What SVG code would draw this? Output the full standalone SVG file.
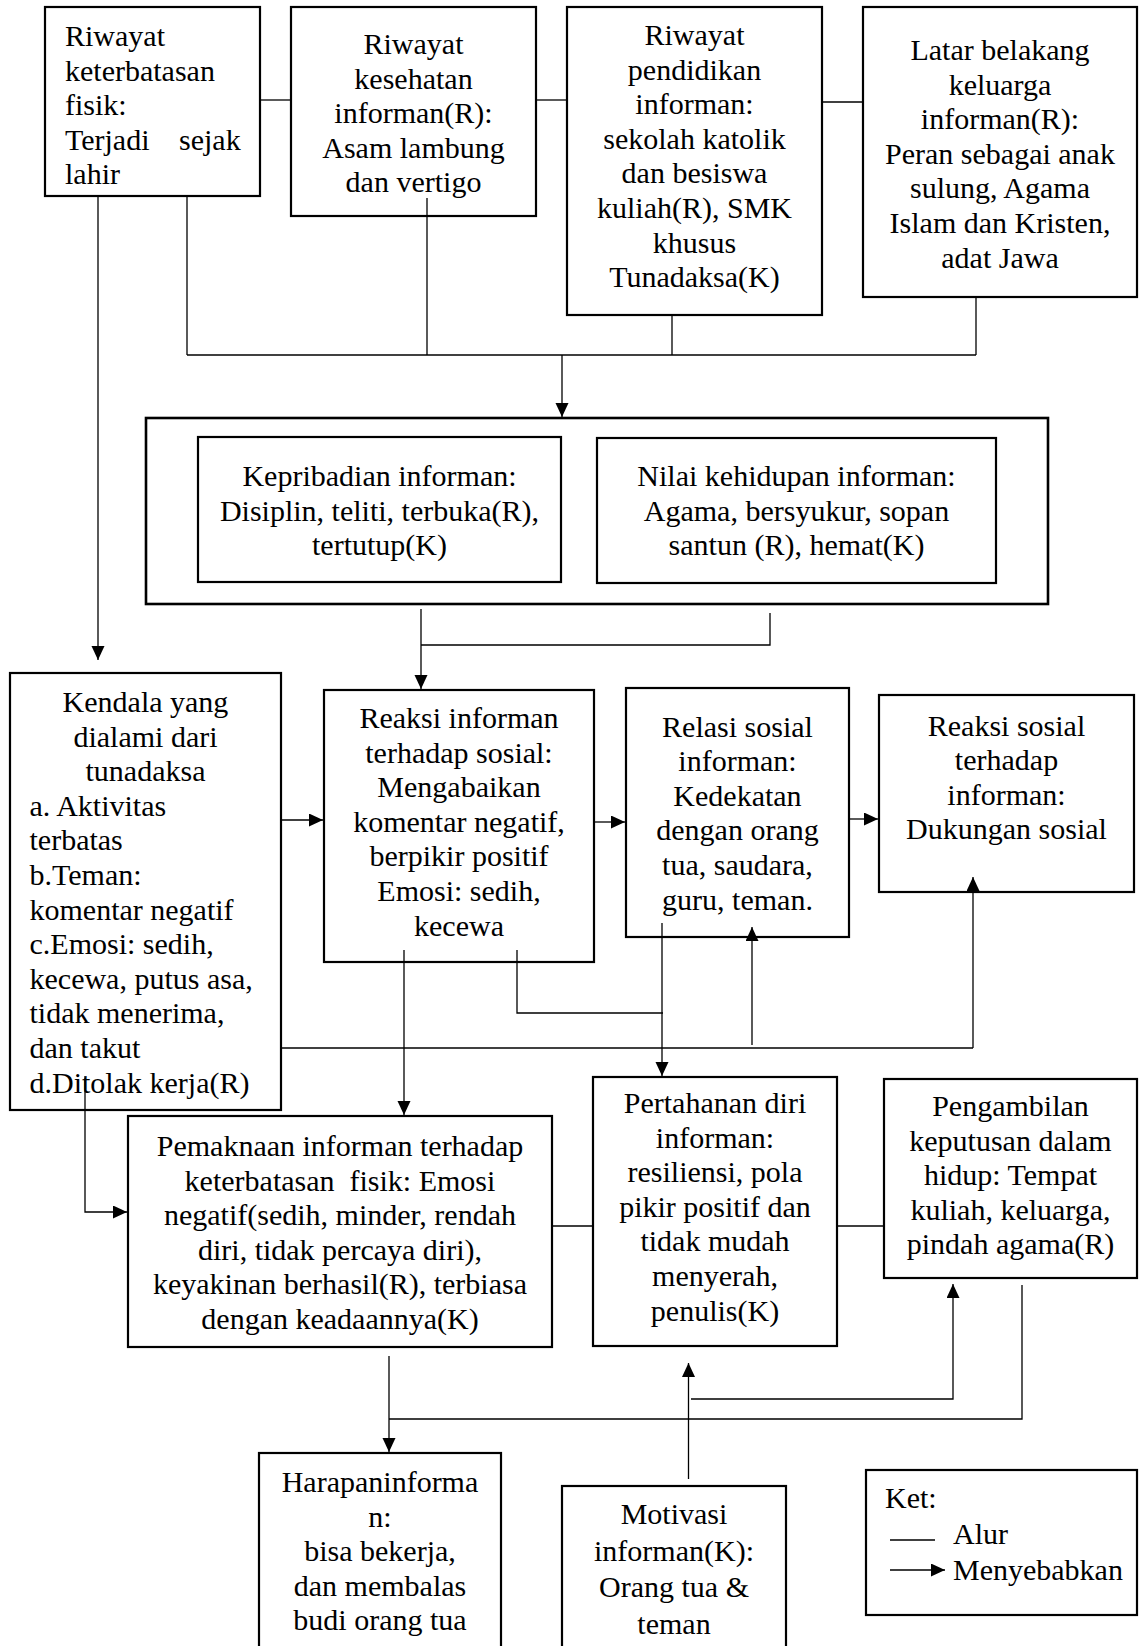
<svg xmlns="http://www.w3.org/2000/svg" width="1139" height="1646" viewBox="0 0 1139 1646">
<style>
.box{fill:#fff;stroke:#000;stroke-width:2.2}
.ln{fill:none;stroke:#000;stroke-width:1.3}
.ar{fill:none;stroke:#000;stroke-width:1.3;marker-end:url(#ah)}
text{font-family:"Liberation Serif","Times New Roman",serif;font-size:30px;fill:#000}
.c{text-anchor:middle}
</style>
<defs>
<marker id="ah" markerUnits="userSpaceOnUse" markerWidth="15" markerHeight="14" refX="14" refY="6.5" orient="auto">
<path d="M0,0 L14,6.5 L0,13 z" fill="#000"/>
</marker>
</defs>
<rect width="1139" height="1646" fill="#fff"/>
<g id="n1">
<rect class="box" x="45" y="7" width="215" height="189"/>
<text x="65" y="46">Riwayat</text>
<text x="65" y="80.6">keterbatasan</text>
<text x="65" y="115.2">fisik:</text>
<text y="149.8"><tspan x="65">Terjadi</tspan><tspan x="179">sejak</tspan></text>
<text x="65" y="184.4">lahir</text>
</g>
<g id="n2">
<rect class="box" x="291" y="7" width="245" height="209"/>
<text class="c" x="413.5" y="54">Riwayat</text>
<text class="c" x="413.5" y="88.6">kesehatan</text>
<text class="c" x="413.5" y="123.2">informan(R):</text>
<text class="c" x="413.5" y="157.8">Asam lambung</text>
<text class="c" x="413.5" y="192.4">dan vertigo</text>
</g>
<g id="n3">
<rect class="box" x="567" y="7" width="255" height="308"/>
<text class="c" x="694.5" y="45">Riwayat</text>
<text class="c" x="694.5" y="79.6">pendidikan</text>
<text class="c" x="694.5" y="114.2">informan:</text>
<text class="c" x="694.5" y="148.8">sekolah katolik</text>
<text class="c" x="694.5" y="183.4">dan besiswa</text>
<text class="c" x="694.5" y="218">kuliah(R), SMK</text>
<text class="c" x="694.5" y="252.6">khusus</text>
<text class="c" x="694.5" y="287.2">Tunadaksa(K)</text>
</g>
<g id="n4">
<rect class="box" x="863" y="7" width="274" height="290"/>
<text class="c" x="1000" y="60">Latar belakang</text>
<text class="c" x="1000" y="94.6">keluarga</text>
<text class="c" x="1000" y="129.2">informan(R):</text>
<text class="c" x="1000" y="163.8">Peran sebagai anak</text>
<text class="c" x="1000" y="198.4">sulung, Agama</text>
<text class="c" x="1000" y="233">Islam dan Kristen,</text>
<text class="c" x="1000" y="267.6">adat Jawa</text>
</g>
<g id="n-group">
<rect class="box" x="146" y="418" width="902" height="186" style="stroke-width:2.6"/>
</g>
<g id="n-kepribadian">
<rect class="box" x="198" y="437" width="363" height="145"/>
<text class="c" x="379.5" y="486">Kepribadian informan:</text>
<text class="c" x="379.5" y="520.6">Disiplin, teliti, terbuka(R),</text>
<text class="c" x="379.5" y="555.2">tertutup(K)</text>
</g>
<g id="n-nilai">
<rect class="box" x="597" y="438" width="399" height="145"/>
<text class="c" x="796.5" y="486">Nilai kehidupan informan:</text>
<text class="c" x="796.5" y="520.6">Agama, bersyukur, sopan</text>
<text class="c" x="796.5" y="555.2">santun (R), hemat(K)</text>
</g>
<g id="n-kendala">
<rect class="box" x="10" y="673" width="271" height="437"/>
<text class="c" x="145.5" y="712">Kendala yang</text>
<text class="c" x="145.5" y="746.6">dialami dari</text>
<text class="c" x="145.5" y="781.2">tunadaksa</text>
<text x="29.5" y="815.8">a. Aktivitas</text>
<text x="29.5" y="850.4">terbatas</text>
<text x="29.5" y="885">b.Teman:</text>
<text x="29.5" y="919.6">komentar negatif</text>
<text x="29.5" y="954.2">c.Emosi: sedih,</text>
<text x="29.5" y="988.8">kecewa, putus asa,</text>
<text x="29.5" y="1023.4">tidak menerima,</text>
<text x="29.5" y="1058">dan takut</text>
<text x="29.5" y="1092.6">d.Ditolak kerja(R)</text>
</g>
<g id="n-reaksi-informan">
<rect class="box" x="324" y="690" width="270" height="272"/>
<text class="c" x="459" y="728">Reaksi informan</text>
<text class="c" x="459" y="762.6">terhadap sosial:</text>
<text class="c" x="459" y="797.2">Mengabaikan</text>
<text class="c" x="459" y="831.8">komentar negatif,</text>
<text class="c" x="459" y="866.4">berpikir positif</text>
<text class="c" x="459" y="901">Emosi: sedih,</text>
<text class="c" x="459" y="935.6">kecewa</text>
</g>
<g id="n-relasi">
<rect class="box" x="626" y="688" width="223" height="249"/>
<text class="c" x="737.5" y="736.5">Relasi sosial</text>
<text class="c" x="737.5" y="771.1">informan:</text>
<text class="c" x="737.5" y="805.7">Kedekatan</text>
<text class="c" x="737.5" y="840.3">dengan orang</text>
<text class="c" x="737.5" y="874.9">tua, saudara,</text>
<text class="c" x="737.5" y="909.5">guru, teman.</text>
</g>
<g id="n-reaksi-sosial">
<rect class="box" x="879" y="695" width="255" height="197"/>
<text class="c" x="1006.5" y="735.5">Reaksi sosial</text>
<text class="c" x="1006.5" y="770.1">terhadap</text>
<text class="c" x="1006.5" y="804.7">informan:</text>
<text class="c" x="1006.5" y="839.3">Dukungan sosial</text>
</g>
<g id="n-pemaknaan">
<rect class="box" x="128" y="1116" width="424" height="231"/>
<text class="c" x="340" y="1156">Pemaknaan informan terhadap</text>
<text class="c" x="340" y="1190.6" xml:space="preserve">keterbatasan  fisik: Emosi</text>
<text class="c" x="340" y="1225.2">negatif(sedih, minder, rendah</text>
<text class="c" x="340" y="1259.8">diri, tidak percaya diri),</text>
<text class="c" x="340" y="1294.4">keyakinan berhasil(R), terbiasa</text>
<text class="c" x="340" y="1329">dengan keadaannya(K)</text>
</g>
<g id="n-pertahanan">
<rect class="box" x="593" y="1077" width="244" height="269"/>
<text class="c" x="715" y="1113">Pertahanan diri</text>
<text class="c" x="715" y="1147.6">informan:</text>
<text class="c" x="715" y="1182.2">resiliensi, pola</text>
<text class="c" x="715" y="1216.8">pikir positif dan</text>
<text class="c" x="715" y="1251.4">tidak mudah</text>
<text class="c" x="715" y="1286">menyerah,</text>
<text class="c" x="715" y="1320.6">penulis(K)</text>
</g>
<g id="n-pengambilan">
<rect class="box" x="884" y="1079" width="253" height="199"/>
<text class="c" x="1010.5" y="1116">Pengambilan</text>
<text class="c" x="1010.5" y="1150.6">keputusan dalam</text>
<text class="c" x="1010.5" y="1185.2">hidup: Tempat</text>
<text class="c" x="1010.5" y="1219.8">kuliah, keluarga,</text>
<text class="c" x="1010.5" y="1254.4">pindah agama(R)</text>
</g>
<g id="n-harapan">
<rect class="box" x="259" y="1453" width="242" height="210"/>
<text class="c" x="380" y="1492">Harapaninforma</text>
<text class="c" x="380" y="1526.6">n:</text>
<text class="c" x="380" y="1561.2">bisa bekerja,</text>
<text class="c" x="380" y="1595.8">dan membalas</text>
<text class="c" x="380" y="1630.4">budi orang tua</text>
</g>
<g id="n-motivasi">
<rect class="box" x="562" y="1486" width="224" height="180"/>
<text class="c" x="674" y="1524">Motivasi</text>
<text class="c" x="674" y="1560.7">informan(K):</text>
<text class="c" x="674" y="1597.4">Orang tua &amp;</text>
<text class="c" x="674" y="1634">teman</text>
</g>
<g id="legend">
<rect class="box" x="866" y="1470" width="271" height="145"/>
<text x="885" y="1508">Ket:</text>
<path class="ln" d="M890,1540 H935"/>
<text x="953" y="1544">Alur</text>
<path class="ar" d="M890,1570 H945"/>
<text x="953" y="1580">Menyebabkan</text>
</g>
<g id="connectors">
<path class="ln" d="M260,100 H291"/>
<path class="ln" d="M536,100 H567"/>
<path class="ln" d="M822,102 H863"/>
<path class="ar" d="M98,196 V660"/>
<path class="ln" d="M187,196 V355"/>
<path class="ln" d="M427,198 V355"/>
<path class="ln" d="M672,315 V355"/>
<path class="ln" d="M976,297 V355"/>
<path class="ln" d="M187,355 H976"/>
<path class="ar" d="M562,355 V417"/>
<path class="ar" d="M421,609 V689"/>
<path class="ln" d="M770,613 V645 H421"/>
<path class="ar" d="M281,820 H323"/>
<path class="ar" d="M594,822 H625"/>
<path class="ar" d="M849,819 H878"/>
<path class="ar" d="M404,950 V1115"/>
<path class="ln" d="M517,950 V1013 H663"/>
<path class="ar" d="M662,923 V1076"/>
<path class="ln" d="M281,1048 H973"/>
<path class="ar" d="M973,1048 V877"/>
<path class="ar" d="M752,1045 V927"/>
<path class="ar" d="M85,1076 V1212 H127"/>
<path class="ln" d="M552,1226 H593"/>
<path class="ln" d="M837,1226 H884"/>
<path class="ar" d="M389,1356 V1452"/>
<path class="ln" d="M389,1419 H1022 V1285"/>
<path class="ar" d="M691,1399 H953 V1284"/>
<path class="ar" d="M688.5,1479 V1363"/>
</g>
</svg>
